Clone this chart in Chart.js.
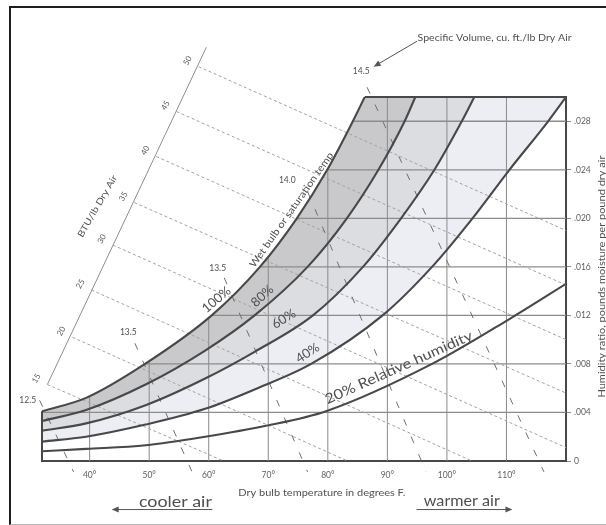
<!DOCTYPE html>
<html>
<head>
<meta charset="utf-8">
<title>Psychrometric chart</title>
<script src="https://cdn.jsdelivr.net/npm/chart.js@4.4.1/dist/chart.umd.min.js"></script>
<style>
  html, body { margin: 0; padding: 0; background: #fff; }
  #wrap { position: relative; width: 606px; height: 525px; overflow: hidden; }
  #frame {
    position: absolute; left: 9px; top: 6px; width: 700px; height: 516px;
    border-left: 2px solid #1e1e1e; border-top: 2px solid #1e1e1e; border-bottom: 1px solid #b8b8b8;
    pointer-events: none;
  }
</style>
</head>
<body>
<div id="wrap">
  <canvas id="psychroChart" width="606" height="525"></canvas>
  <div id="frame"></div>
</div>
<script>
// relative humidity curves: dry bulb (deg F) and humidity ratio (lb/lb)
var rh100T = [32, 39.4, 49.3, 60.5, 68.6, 74.8, 79.9, 84.2, 86.2];
var rh100W = [0.0041, 0.0052, 0.0080, 0.0120, 0.0160, 0.0200, 0.0240, 0.0280, 0.0300];
var rh80T = [32, 39.4, 49.4, 59.4, 67.7, 76.6, 83.2, 88.5, 92.9, 94.7];
var rh80W = [0.0033, 0.0042, 0.0063, 0.0091, 0.0120, 0.0160, 0.0200, 0.0240, 0.0280, 0.0300];
var rh60T = [32, 39.4, 49.4, 59.4, 67.7, 77.5, 85.9, 92.3, 97.9, 102.5, 104.6];
var rh60W = [0.0025, 0.0031, 0.0046, 0.0068, 0.0090, 0.0120, 0.0160, 0.0200, 0.0240, 0.0280, 0.0300];
var rh40T = [32, 39.4, 49.4, 59.4, 67.7, 77.2, 89.2, 97.5, 104.3, 110.5, 117.0, 120];
var rh40W = [0.0016, 0.0020, 0.0030, 0.0043, 0.0059, 0.0080, 0.0120, 0.0160, 0.0200, 0.0240, 0.0280, 0.0300];
var rh20T = [32, 39.4, 49.4, 59.4, 69.6, 79.7, 97.5, 110.5, 120];
var rh20W = [0.0008, 0.0010, 0.0013, 0.0020, 0.0029, 0.0041, 0.0080, 0.0117, 0.0146];
var rhLabels = ['100%', '80%', '60%', '40%', '20%'];

var dryBulbTicks = [40, 50, 60, 70, 80, 90, 100, 110];
var humidityTicks = [0, 0.004, 0.008, 0.012, 0.016, 0.020, 0.024, 0.028];

// enthalpy lines, BTU/lb dry air
var enthalpyValues = [15, 20, 25, 30, 35, 40, 45, 50];
var enthalpyStartT = [32.9, 37.1, 40.3, 43.9, 47.5, 51.2, 54.6, 58.3];
var enthalpyStartW = [0.0063, 0.0102, 0.0141, 0.0178, 0.0213, 0.0251, 0.0288, 0.0325];
var enthalpyEndT = [62.5, 83.3, 104.2, 120, 120, 120, 120, 120];
var enthalpyEndW = [0, 0, 0, 0.0011, 0.0056, 0.0100, 0.0145, 0.0190];
var enthalpyScaleT = [32.9, 59.6];
var enthalpyScaleW = [0.0063, 0.0341];

// specific volume lines, cu. ft./lb dry air (labels as printed)
var volumeLabels = ['12.5', '13.5', '13.5', '14.0', '14.5'];
var volumeTopT = [31.6, 47.6, 62.6, 76.6, 86.6];
var volumeTopW = [0.0050, 0.0097, 0.0151, 0.0222, 0.0308];
var volumeBottomT = [37.3, 57.2, 76.6, 96.5, 116.3];
var volumeBottomW = -0.0009;

var X_MIN = 32, X_MAX = 120, Y_MIN = 0, Y_MAX = 0.030;

var INK = '#484848';
var TEXT = '#505050';

function points(xs, ys) {
    return xs.map(function (x, i) { return { x: x, y: ys[i] }; });
}

// carry a curve on past the top edge so the band fills close against the frame
function runOut(pts) {
    var a = pts[pts.length - 2], b = pts[pts.length - 1];
    if (b.x >= X_MAX) return pts;
    var slope = (b.y - a.y) / (b.x - a.x);
    return pts.concat([{ x: X_MAX, y: b.y + slope * (X_MAX - b.x) }]);
}

var curveT = [rh100T, rh80T, rh60T, rh40T, rh20T];
var curveW = [rh100W, rh80W, rh60W, rh40W, rh20W];
var bandFill = ['#c9c9cc', '#dcdde1', '#eceef4', null, null];

var datasets = [];

curveT.forEach(function (ts, i) {
    datasets.push({
        label: rhLabels[i] + ' relative humidity',
        data: runOut(points(ts, curveW[i])),
        borderColor: INK,
        borderWidth: 2.1,
        cubicInterpolationMode: 'monotone',
        fill: bandFill[i] ? '+1' : false,
        backgroundColor: bandFill[i] || 'rgba(0,0,0,0)',
        clip: 0,
        order: 0
    });
});

// frame pieces the axes do not draw
datasets.push({
    label: 'left edge',
    data: [{ x: X_MIN, y: Y_MIN }, { x: X_MIN, y: rh100W[0] }],
    borderColor: INK, borderWidth: 2, clip: false, order: 0
});
datasets.push({
    label: 'top edge',
    data: [{ x: rh100T[rh100T.length - 1], y: Y_MAX }, { x: X_MAX, y: Y_MAX }],
    borderColor: INK, borderWidth: 2, clip: false, order: 0
});

// grid, kept under the saturation curve
humidityTicks.slice(1).forEach(function (w) {
    datasets.push({
        label: 'W ' + w,
        data: [{ x: X_MIN, y: w }, { x: X_MAX, y: w }],
        borderColor: '#8c8c8c', borderWidth: 1.3, clip: 0, order: 3, satClip: true
    });
});
dryBulbTicks.forEach(function (t) {
    datasets.push({
        label: 'T ' + t,
        data: [{ x: t, y: Y_MIN }, { x: t, y: Y_MAX }],
        borderColor: '#8a8a8a', borderWidth: 1, clip: 0, order: 3, satClip: true
    });
});

enthalpyValues.forEach(function (h, i) {
    datasets.push({
        label: 'h ' + h,
        data: [{ x: enthalpyStartT[i], y: enthalpyStartW[i] }, { x: enthalpyEndT[i], y: enthalpyEndW[i] }],
        borderColor: '#a2a2a2', borderWidth: 1, borderDash: [3, 2.5], clip: false, order: 2
    });
});
datasets.push({
    label: 'enthalpy scale',
    data: points(enthalpyScaleT, enthalpyScaleW),
    borderColor: '#8d8d8d', borderWidth: 1, clip: false, order: 2
});

volumeLabels.forEach(function (v, i) {
    datasets.push({
        label: 'v ' + v,
        data: [{ x: volumeTopT[i], y: volumeTopW[i] }, { x: volumeBottomT[i], y: volumeBottomW }],
        borderColor: '#6e6e6e', borderWidth: 1, borderDash: [7, 12], clip: false, order: 1
    });
});

// text placed in chart units: x = deg F, y = humidity ratio
var notes = [
    { text: '100%', x: 61.3, y: 0.0133, rot: -40, size: 13 },
    { text: '80%', x: 69.0, y: 0.0136, rot: -42, size: 13 },
    { text: '60%', x: 72.6, y: 0.0117, rot: -32, size: 13 },
    { text: '40%', x: 76.6, y: 0.0089, rot: -33, size: 13 },
    { text: '20% Relative humidity', x: 91.9, y: 0.0077, rot: -24, size: 14, w: 160 },
    { text: 'Wet bulb or saturation temp', x: 73.9, y: 0.0207, rot: -55, size: 10, w: 138 },
    { text: 'BTU/lb Dry Air', x: 41.3, y: 0.0210, rot: -60, size: 9, w: 70 },
    { text: '12.5', x: 29.6, y: 0.0050, rot: 0, size: 8.5 },
    { text: '13.5', x: 46.5, y: 0.0106, rot: 0, size: 8.5 },
    { text: '13.5', x: 61.5, y: 0.0159, rot: 0, size: 8.5 },
    { text: '14.0', x: 73.2, y: 0.0231, rot: 0, size: 8.5 },
    { text: '14.5', x: 85.6, y: 0.0321, rot: 0, size: 8.5 },
    { text: 'Specific Volume, cu. ft./lb Dry Air', x: 108.0, y: 0.0349, rot: 0, size: 9.5, w: 154 },
    { text: 'Dry bulb temperature in degrees F.', x: 79.0, y: -0.00264, rot: 0, size: 9.5, w: 167 },
    { text: 'cooler air', x: 54.4, y: -0.0034, rot: 0, size: 15, w: 73 },
    { text: 'warmer air', x: 102.5, y: -0.0033, rot: 0, size: 15, w: 76 },
    { text: 'Humidity ratio, pounds moisture per pound dry air', x: 126.1, y: 0.0152, rot: -90, size: 9.5, w: 242 }
];
var arrows = [
    { from: [60.6, -0.0040], to: [43.7, -0.0040] },
    { from: [94.9, -0.0040], to: [111.0, -0.0040] },
    { from: [95.0, 0.0346], to: [87.7, 0.0325] }
];

function say(ctx, n, px, py) {
    ctx.save();
    ctx.translate(px, py);
    ctx.rotate((n.rot || 0) * Math.PI / 180);
    ctx.font = n.size + 'px Lato';
    ctx.fillStyle = n.color || TEXT;
    ctx.textAlign = 'center';
    ctx.textBaseline = 'middle';
    if (n.w) {
        var m = ctx.measureText(n.text).width;
        ctx.scale(n.w / m, 1);
    }
    ctx.fillText(n.text, 0, 0);
    ctx.restore();
}

var satClip = {
    id: 'satClip',
    beforeDatasetDraw: function (chart, args) {
        if (!chart.data.datasets[args.index].satClip) return;
        var ctx = chart.ctx, area = chart.chartArea;
        var sat = chart.getDatasetMeta(0).dataset;
        var first = sat.points[0];
        ctx.save();
        ctx.beginPath();
        sat.path(ctx);
        ctx.lineTo(area.right, area.bottom);
        ctx.lineTo(first.x, area.bottom);
        ctx.closePath();
        ctx.clip();
    },
    afterDatasetDraw: function (chart, args) {
        if (!chart.data.datasets[args.index].satClip) return;
        chart.ctx.restore();
    }
};

var annotate = {
    id: 'annotate',
    afterDraw: function (chart) {
        var ctx = chart.ctx, sx = chart.scales.x, sy = chart.scales.y;

        enthalpyValues.forEach(function (h, i) {
            var px = sx.getPixelForValue(enthalpyStartT[i]) - 11;
            var py = sy.getPixelForValue(enthalpyStartW[i]) - 6;
            say(ctx, { text: String(h), rot: -60, size: 8, color: '#5a5a5a' }, px, py);
        });

        notes.forEach(function (n) {
            say(ctx, n, sx.getPixelForValue(n.x), sy.getPixelForValue(n.y));
        });

        ctx.save();
        ctx.strokeStyle = '#555';
        ctx.fillStyle = '#555';
        ctx.lineWidth = 1;
        arrows.forEach(function (a) {
            var x0 = sx.getPixelForValue(a.from[0]), y0 = sy.getPixelForValue(a.from[1]);
            var x1 = sx.getPixelForValue(a.to[0]), y1 = sy.getPixelForValue(a.to[1]);
            var ang = Math.atan2(y1 - y0, x1 - x0);
            ctx.beginPath();
            ctx.moveTo(x0, y0);
            ctx.lineTo(x1 - 5 * Math.cos(ang), y1 - 5 * Math.sin(ang));
            ctx.stroke();
            ctx.beginPath();
            ctx.moveTo(x1, y1);
            ctx.lineTo(x1 - 7 * Math.cos(ang) + 3 * Math.sin(ang), y1 - 7 * Math.sin(ang) - 3 * Math.cos(ang));
            ctx.lineTo(x1 - 7 * Math.cos(ang) - 3 * Math.sin(ang), y1 - 7 * Math.sin(ang) + 3 * Math.cos(ang));
            ctx.closePath();
            ctx.fill();
        });
        ctx.restore();
    }
};

Chart.defaults.font.family = 'Lato';
Chart.defaults.color = '#666';

var ctx = document.getElementById('psychroChart').getContext('2d');
var psychroChart = new Chart(ctx, {
    type: 'line',
    data: { datasets: datasets },
    options: {
        responsive: false,
        animation: false,
        events: [],
        layout: { padding: { top: 97, left: 42, right: 0, bottom: 0 } },
        elements: { point: { radius: 0 }, line: { tension: 0 } },
        plugins: {
            legend: { display: false },
            tooltip: { enabled: false },
            filler: { drawTime: 'beforeDatasetsDraw' }
        },
        scales: {
            x: {
                type: 'linear',
                min: X_MIN,
                max: X_MAX,
                z: 1,
                grid: { display: false, drawTicks: false },
                border: { display: true, color: INK, width: 2 },
                afterBuildTicks: function (axis) {
                    axis.ticks = dryBulbTicks.map(function (v) { return { value: v }; });
                },
                afterFit: function (axis) { axis.height = 64; },
                ticks: {
                    padding: 9,
                    maxRotation: 0,
                    autoSkip: false,
                    color: '#5f5f5f',
                    font: { size: 8.5 },
                    callback: function (v) { return v + '\u00b0'; }
                }
            },
            y: {
                type: 'linear',
                position: 'right',
                min: Y_MIN,
                max: Y_MAX,
                z: 1,
                grid: { drawOnChartArea: false, drawTicks: true, tickLength: 5, color: '#8c8c8c' },
                border: { display: true, color: INK, width: 2 },
                afterBuildTicks: function (axis) {
                    axis.ticks = humidityTicks.map(function (v) { return { value: v }; });
                },
                afterFit: function (axis) { axis.width = 40; },
                ticks: {
                    padding: 3,
                    color: '#5f5f5f',
                    font: { size: 8.5 },
                    callback: function (v) { return v === 0 ? '0' : v.toFixed(3).replace(/^0/, ''); }
                }
            }
        }
    },
    plugins: [satClip, annotate]
});
</script>
</body>
</html>
